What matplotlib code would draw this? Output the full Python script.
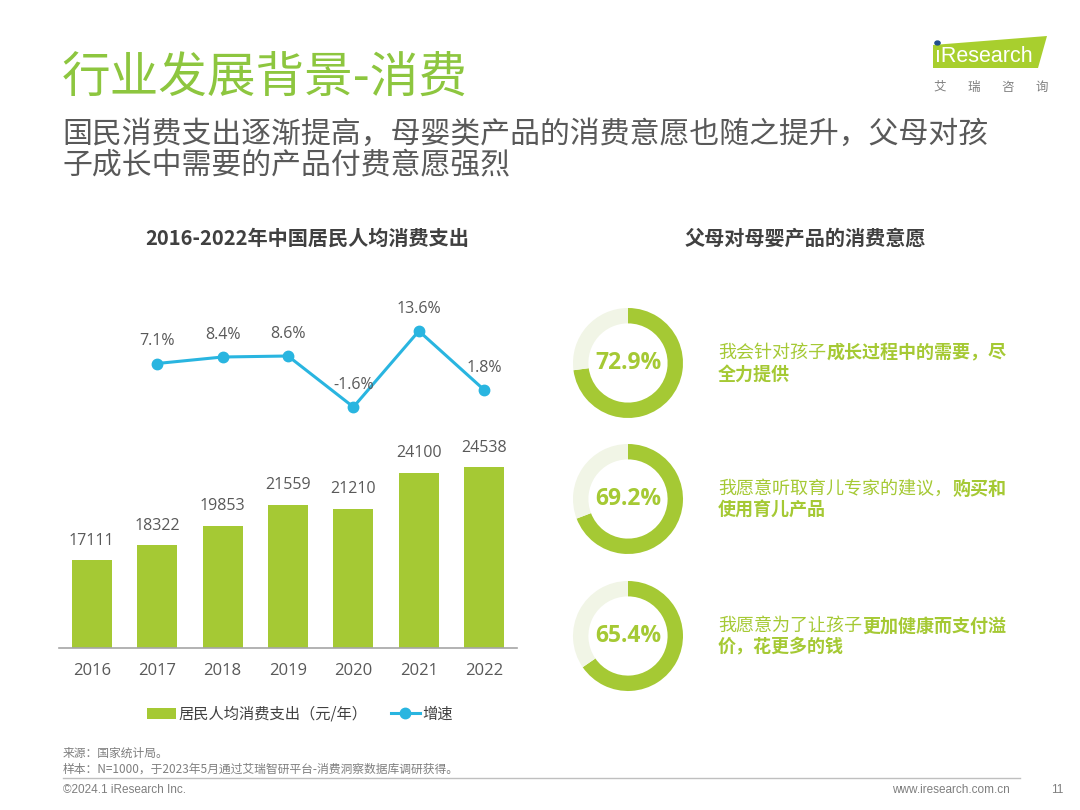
import matplotlib
matplotlib.use('Agg')
import matplotlib.pyplot as plt
from matplotlib.patches import Polygon
from matplotlib.lines import Line2D

plt.rcParams['font.family'] = ['Noto Sans CJK SC', 'DejaVu Sans']

# data
years = ['2016', '2017', '2018', '2019', '2020', '2021', '2022']
spend = [17111, 18322, 19853, 21559, 21210, 24100, 24538]
growth_years = ['2017', '2018', '2019', '2020', '2021', '2022']
growth = [7.1, 8.4, 8.6, -1.6, 13.6, 1.8]

donut_pcts = [72.9, 69.2, 65.4]
donut_lines = [
    [[('我会针对孩子', 'normal'), ('成长过程中的需要，尽', 'bold')], [('全力提供', 'bold')]],
    [[('我愿意听取育儿专家的建议，', 'normal'), ('购买和', 'bold')], [('使用育儿产品', 'bold')]],
    [[('我愿意为了让孩子', 'normal'), ('更加健康而支付溢', 'bold')], [('价，花更多的钱', 'bold')]],
]

GREEN = '#a5c934'
TITLE_GREEN = '#8dc63f'
BLUE = '#29b5e0'
GRAY = '#595959'
DARK = '#404040'
LIGHT = '#f1f5e6'

W, H = 1080, 810
def fx(x):
    return x / W
def fy(y):
    return 1 - y / H

fig = plt.figure(figsize=(10.8, 8.1), dpi=100)

# header
fig.text(fx(62), fy(78), '行业发展背景-消费', fontsize=35, color=TITLE_GREEN, va='center', ha='left')
fig.text(fx(62), fy(134), '国民消费支出逐渐提高，母婴类产品的消费意愿也随之提升，父母对孩',
         fontsize=21.5, color=GRAY, va='center', ha='left')
fig.text(fx(62), fy(166), '子成长中需要的产品付费意愿强烈',
         fontsize=21.5, color=GRAY, va='center', ha='left')

# logo
fig.patches.append(Polygon([(fx(933), fy(45)), (fx(1047), fy(36)), (fx(1038), fy(68)), (fx(933), fy(68))],
                           closed=True, transform=fig.transFigure, facecolor='#a8cf2e', edgecolor='none'))
fig.text(fx(935), fy(56), 'ıResearch', fontsize=15.5, color='white', family=['Liberation Sans', 'DejaVu Sans'],
         va='center', ha='left')
fig.patches.append(plt.Circle((fx(937.5), fy(43)), 2.6 / W, transform=fig.transFigure, color='#1f4e8c'))
for i, ch in enumerate('艾瑞咨询'):
    fig.text(fx(940 + i * 34), fy(87), ch, fontsize=9, color='#7f7f7f', va='center', ha='center')

# chart titles
fig.text(fx(307), fy(238), '2016-2022年中国居民人均消费支出', fontsize=14.5, weight='bold',
         color=DARK, va='center', ha='center')
fig.text(fx(805), fy(238), '父母对母婴产品的消费意愿', fontsize=14.5, weight='bold',
         color=DARK, va='center', ha='center')

# bar chart
ax = fig.add_axes([fx(59), fy(648), 458 / W, 199 / H])
x = list(range(len(years)))
bars = ax.bar(x, spend, width=0.61, color=GREEN)
ax.set_xlim(-0.5, 6.5)
ax.set_ylim(10083, 26000)
ax.set_xticks(x)
ax.set_xticklabels(years, fontsize=12, color=GRAY, family=['Open Sans', 'DejaVu Sans'])
ax.set_yticks([])
ax.tick_params(axis='x', length=0, pad=10.5)
for s in ['top', 'right', 'left']:
    ax.spines[s].set_visible(False)
ax.spines['bottom'].set_color('#a6a6a6')
ax.spines['bottom'].set_linewidth(1.2)
ax.patch.set_alpha(0)
for xi, v in zip(x, spend):
    ax.annotate(str(v), (xi, v), xytext=(0, 14), textcoords='offset points', ha='center', va='center',
                fontsize=11.5, color=GRAY, family=['Open Sans', 'DejaVu Sans'])

# growth line
ax2 = fig.add_axes([fx(59), fy(419), 458 / W, 100 / H])
gx = [years.index(y) for y in growth_years]
line, = ax2.plot(gx, growth, color=BLUE, linewidth=2.2, marker='o', markersize=7.5)
ax2.set_xlim(-0.5, 6.5)
ax2.set_ylim(-4, 16)
ax2.axis('off')
for xi, v in zip(gx, growth):
    ax2.annotate(f'{v}%', (xi, v), xytext=(0, 16), textcoords='offset points', ha='center', va='center',
                 fontsize=11.5, color=GRAY, family=['Open Sans', 'DejaVu Sans'])

# legend
leg = fig.legend([bars, line], ['居民人均消费支出（元/年）', '增速'], loc='center',
                 bbox_to_anchor=(fx(300), fy(714)), ncol=2, frameon=False, fontsize=11,
                 handlelength=1.9, handletextpad=0.2, columnspacing=1.5, labelcolor=DARK)

# donuts
centers = [363, 499, 636]
fs = 13
char_px = fs * 100 / 72
for cy, pct, lines in zip(centers, donut_pcts, donut_lines):
    dax = fig.add_axes([fx(628 - 55), fy(cy + 55), 110 / W, 110 / H])
    dax.pie([pct, 100 - pct], colors=[GREEN, LIGHT], startangle=90, counterclock=False,
            wedgeprops=dict(width=0.28, edgecolor='none'))
    dax.set_xlim(-1, 1)
    dax.set_ylim(-1, 1)
    dax.text(0, 0, f'{pct}%', ha='center', va='center', fontsize=16.5, weight='bold', color=GREEN,
             family=['Open Sans', 'DejaVu Sans'])
    for li, segs in enumerate(lines):
        yy = cy - 10 if li == 0 else cy + 11
        xx = 718
        for txt, wt in segs:
            fig.text(fx(xx), fy(yy), txt, fontsize=fs, weight=wt, color=GREEN, va='center', ha='left')
            xx += len(txt) * char_px

# footer
fig.text(fx(63), fy(753), '来源：国家统计局。', fontsize=8.5, color='#7f7f7f', va='center', ha='left')
fig.text(fx(63), fy(769), '样本：N=1000，于2023年5月通过艾瑞智研平台-消费洞察数据库调研获得。',
         fontsize=8.5, color='#7f7f7f', va='center', ha='left')
fig.lines.append(Line2D([fx(63), fx(1020)], [fy(778), fy(778)], transform=fig.transFigure,
                        color='#bfbfbf', linewidth=1))
fig.text(fx(63), fy(790), '©2024.1 iResearch Inc.', fontsize=8.5, color='#7f7f7f', va='center', ha='left',
         family=['Liberation Sans', 'DejaVu Sans'])
fig.text(fx(1010), fy(790), 'www.iresearch.com.cn', fontsize=8.5, color='#7f7f7f', va='center', ha='right',
         family=['Liberation Sans', 'DejaVu Sans'])
fig.text(fx(1057), fy(790), '11', fontsize=8.5, color='#7f7f7f', va='center', ha='center',
         family=['Liberation Sans', 'DejaVu Sans'])

fig.savefig('out.png', dpi=100, facecolor='white')
